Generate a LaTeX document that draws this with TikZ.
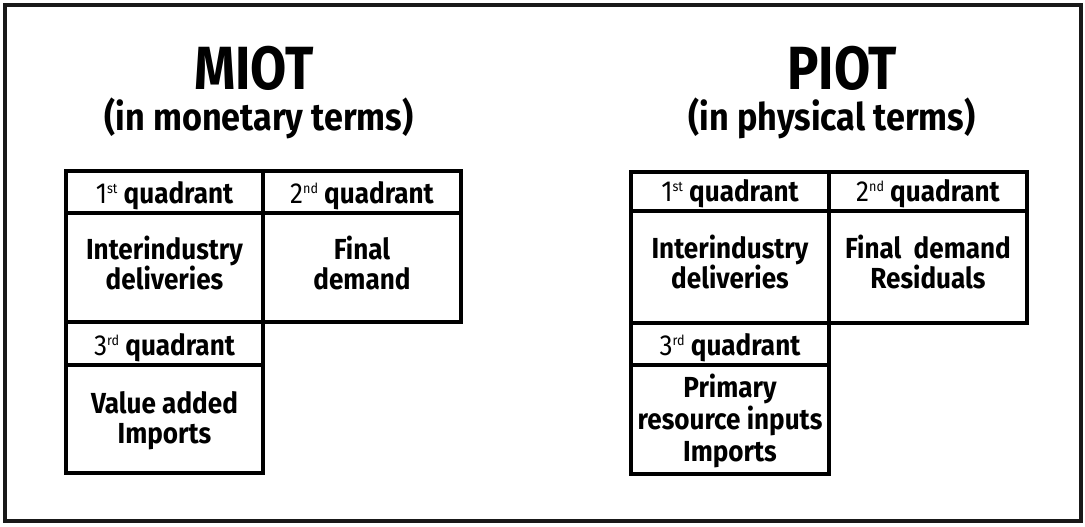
\documentclass[tikz,border=0pt]{standalone}
\usepackage{fontspec}
\setmainfont{Fira Sans}[FakeStretch=0.9]
\newfontfamily\titlefam{Fira Sans}[FakeStretch=0.86]
\newfontfamily\subfam{Fira Sans}[FakeStretch=0.9]
\newcommand\cellfont{\fontsize{29}{30}\selectfont\bfseries}
\newcommand\titlefont{\titlefam\fontsize{61}{64}\selectfont\bfseries}
\newcommand\subfont{\subfam\fontsize{38}{40}\selectfont\bfseries}
\newcommand\quadr[2]{{\mdseries #1\raisebox{10pt}{\fontsize{14}{14}\selectfont #2}}~quadrant}
\begin{document}
\begin{tikzpicture}[x=1pt,y=-1pt,
  cell/.style={draw=black, line width=4pt, inner sep=0pt},
  txt/.style={inner sep=0pt, align=center, font=\cellfont},
  frame/.style={draw=black!90, line width=4.5pt, inner sep=0pt},
  ttl/.style={anchor=base, inner sep=0pt, font=\titlefont},
  subttl/.style={anchor=base, inner sep=0pt, font=\subfont}]
\useasboundingbox (0,0) rectangle (1085,527);
\node[frame, minimum width=1076pt, minimum height=516pt] (border) at (543,263) {};
% titles
\node[ttl] (miot) at (254,90) {MIOT};
\node[subttl] (miotsub) at (259,130) {(in monetary terms)};
\node[ttl] (piot) at (842,90) {PIOT};
\node[subttl] (piotsub) at (832,130) {(in physical terms)};
% MIOT table
\node[cell, minimum width=197pt, minimum height=42pt] (m1h) at (164.5,192) {};
\node[cell, minimum width=198pt, minimum height=42pt] (m2h) at (362,192) {};
\node[cell, minimum width=197pt, minimum height=109pt] (m1) at (164.5,267.5) {};
\node[cell, minimum width=198pt, minimum height=109pt] (m2) at (362,267.5) {};
\node[cell, minimum width=197pt, minimum height=43pt] (m3h) at (164.5,343.5) {};
\node[cell, minimum width=197pt, minimum height=108pt] (m3) at (164.5,419) {};
\node[txt] (m1ht) at ([yshift=-4pt]m1h.center) {\quadr{1}{st}};
\node[txt] (m2ht) at ([yshift=-4pt]m2h.center) {\quadr{2}{nd}};
\node[txt] (m1t) at ([yshift=5pt]m1.center) {Interindustry\\deliveries};
\node[txt] (m2t) at ([yshift=5pt]m2.center) {Final\\demand};
\node[txt] (m3ht) at ([yshift=-4.5pt]m3h.center) {\quadr{3}{rd}};
\node[txt] (m3t) at ([yshift=-2pt]m3.center) {Value added\\Imports};
% PIOT table
\node[cell, minimum width=198pt, minimum height=39pt] (p1h) at (730,191.5) {};
\node[cell, minimum width=198pt, minimum height=39pt] (p2h) at (928,191.5) {};
\node[cell, minimum width=198pt, minimum height=112pt] (p1) at (730,267) {};
\node[cell, minimum width=198pt, minimum height=112pt] (p2) at (928,267) {};
\node[cell, minimum width=198pt, minimum height=42pt] (p3h) at (730,344) {};
\node[cell, minimum width=198pt, minimum height=109pt] (p3) at (730,419.5) {};
\node[txt] (p1ht) at ([yshift=-2pt]p1h.center) {\quadr{1}{st}};
\node[txt] (p2ht) at ([yshift=-2pt]p2h.center) {\quadr{2}{nd}};
\node[txt] (p1t) at ([yshift=5pt]p1.center) {Interindustry\\deliveries};
\node[txt] (p2t) at ([yshift=5pt]p2.center) {Final~~demand\\Residuals};
\node[txt] (p3ht) at ([yshift=-4pt]p3h.center) {\quadr{3}{rd}};
\node[txt, font=\fontsize{29}{32}\selectfont\bfseries] (p3t) at ([yshift=-1.5pt]p3.center) {Primary\\resource inputs\\Imports};
\end{tikzpicture}
\end{document}
